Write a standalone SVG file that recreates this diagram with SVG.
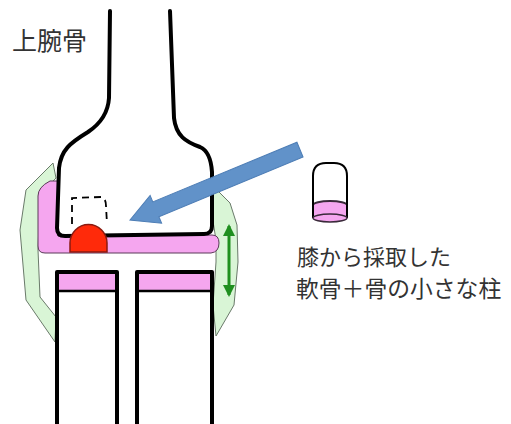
<svg xmlns="http://www.w3.org/2000/svg" width="511" height="424" viewBox="0 0 511 424">
  <style>
    .bone { fill: #ffffff; stroke: #000000; stroke-width: 4; stroke-linejoin: round; stroke-linecap: round; }
    .cart { fill: #f5a6ef; stroke: #5a3a58; stroke-width: 1; }
    .lig { fill: #d9f5d6; stroke: #6a7a6a; stroke-width: 1; stroke-linejoin: round; }
    .label { font-family: "Noto Sans CJK JP", "Noto Sans", sans-serif; fill: #333333; }
  </style>
  <defs>
    <marker id="greenHead" viewBox="0 0 12 12" refX="10" refY="6" markerWidth="12" markerHeight="12" markerUnits="userSpaceOnUse" orient="auto-start-reverse">
      <path d="M0,0 L12,6 L0,12 Z" fill="#1f8f1f"/>
    </marker>
  </defs>

  <rect width="511" height="424" fill="#ffffff"/>

  <!-- ligaments on both sides of the joint -->
  <g id="ligament-left">
    <path class="lig" d="M53,163 L26,190 L20,230 L26,300 L55,342 L56,317 L40,297 L38,250 L40,195 L56,178 Z"/>
  </g>
  <g id="ligament-right">
    <path class="lig" d="M210,183 L230,203 L237,225 L238,262 L234,305 L216,336 L213,305 L216,262 L216,240 L212,215 Z"/>
  </g>

  <!-- humerus (upper bone) -->
  <g id="humerus">
    <path d="M110,11 L109,98 C108,114 100,124 88,132 C70,143 61,150 59,168 L57,228 Q57,236 65,236 L204,234 Q212,234 212,226 L212,172 C211,157 207,150 200,147 C186,142 176,136 174,118 L170,11 Z" fill="#ffffff"/>
    <!-- articular cartilage under the humerus -->
    <path class="cart" d="M50,181 L58,181 L58,236 L212,235 Q219,235 219,243 Q219,252 211,253 L45,253 Q38,253 38,246 L38,196 Q38,187 50,181 Z"/>
    <path class="bone" d="M110,11 L109,98 C108,114 100,124 88,132 C70,143 61,150 59,168 L57,228 Q57,236 65,236 L204,234 Q212,234 212,226 L212,172 C211,157 207,150 200,147 C186,142 176,136 174,118 L170,11" style="fill:none"/>
    <text class="label" x="12" y="50" font-size="25">上腕骨</text>
  </g>

  <!-- harvested site and implanted plug -->
  <g id="defect">
    <path d="M72,224 L72,198 L101,197 Q106,198 106,206 L107,224" fill="none" stroke="#000000" stroke-width="1.8" stroke-dasharray="7,5"/>
  </g>
  <g id="plug">
    <path d="M70,252 L70,243 A18.5,18.5 0 0 1 107,243 L107,252 Z" fill="#ff2a0a" stroke="#8a1a10" stroke-width="1.5"/>
  </g>

  <!-- forearm bones -->
  <g id="forearm-left">
    <rect x="57" y="272" width="60" height="170" class="bone"/>
    <rect x="59" y="274" width="56" height="17" fill="#f5a6ef"/>
    <line x1="57" y1="291" x2="117" y2="291" stroke="#000000" stroke-width="2.5"/>
  </g>
  <g id="forearm-right">
    <rect x="137" y="272" width="75" height="170" class="bone"/>
    <rect x="139" y="274" width="71" height="17" fill="#f5a6ef"/>
    <line x1="137" y1="291" x2="212" y2="291" stroke="#000000" stroke-width="2.5"/>
  </g>

  <!-- osteochondral plug taken from the knee -->
  <g id="graft">
    <path d="M313,218 L313,176 Q313,163 326,163 L334,163 Q347,163 347,176 L347,218" fill="#ffffff" stroke="#000000" stroke-width="2"/>
    <path d="M313,205 A17,4 0 0 1 347,205 L347,218 A17,4 0 0 1 313,218 Z" fill="#f5a6ef" stroke="none"/>
    <path d="M313,205 A17,4 0 0 1 347,205" fill="none" stroke="#3a2a3a" stroke-width="2"/>
    <line x1="313" y1="176" x2="313" y2="218" stroke="#000000" stroke-width="2"/>
    <line x1="347" y1="176" x2="347" y2="218" stroke="#000000" stroke-width="2"/>
    <ellipse cx="330" cy="218" rx="17" ry="4" fill="#f5a6ef" stroke="#3a2a3a" stroke-width="1.5"/>
    <text class="label" x="297" y="265" font-size="22">膝から採取した</text>
    <text class="label" x="296" y="297" font-size="22.8">軟骨＋骨の小さな柱</text>
  </g>

  <!-- connectors -->
  <g id="connectors">
    <g transform="translate(130,220) rotate(-22.5)">
      <path d="M0,0 L28,-15 L28,-8 L184,-8 L184,8 L28,8 L28,15 Z" fill="#6192c9" stroke="#4d7db5" stroke-width="1"/>
    </g>
    <line x1="229" y1="226" x2="229" y2="295" stroke="#1f8f1f" stroke-width="3" marker-start="url(#greenHead)" marker-end="url(#greenHead)"/>
  </g>
</svg>
